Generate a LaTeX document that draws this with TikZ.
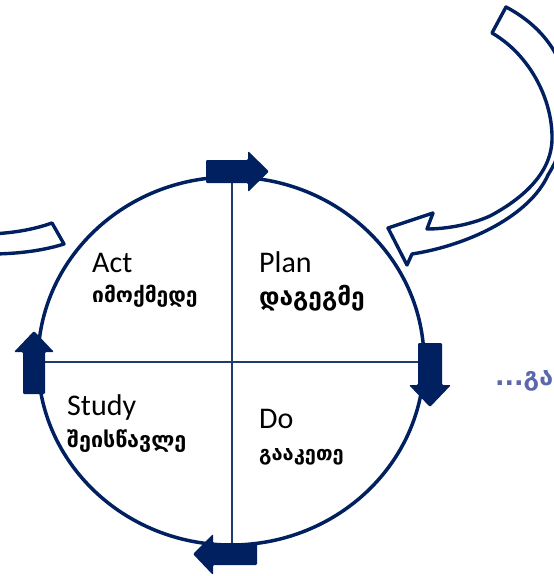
\documentclass[tikz,border=0pt]{standalone}
\usepackage{fontspec}
\setmainfont{Carlito}
\newfontfamily\geofont{DejaVu Sans}
\usepackage{tikz}

\definecolor{cyclenavy}{HTML}{002060}
\definecolor{dividerblue}{HTML}{1F3C6E}
\definecolor{slateblue}{HTML}{5B68AC}

\begin{document}
\begin{tikzpicture}[x=1pt,y=-1pt,
    stepname/.style={anchor=base west,font=\fontsize{30}{34}\selectfont,inner sep=0pt},
    georgian/.style={anchor=base west,font=\geofont\bfseries\fontsize{#1}{24}\selectfont,inner sep=0pt},
    bentarrow/.style={draw=cyclenavy,line width=3.4pt,fill=white,line join=round},
    blockarrow/.style={fill=cyclenavy,rounded corners=1.2pt}]

    \useasboundingbox (0,0) rectangle (554,576);
    \clip (0,0) rectangle (554,576);


    % big bent arrow top right
    \draw[bentarrow] (506,7) -- (492,33)
      .. controls (530,55) and (553,100) .. (552,140)
      .. controls (551,175) and (520,200) .. (490,216)
      .. controls (470,225) and (445,229) .. (427,229)
      -- (433,213) -- (388,228) -- (407,265) -- (412,254)
      .. controls (470,245) and (530,215) .. (548,175)
      .. controls (582,120) and (578,45) .. (506,7) -- cycle;


    % bent arrow top left
    \draw[bentarrow] (-10,234) .. controls (15,233) and (35,229) .. (52,223)
      -- (64,244) .. controls (45,250) and (20,254) .. (-10,254) -- cycle;


    % cycle and dividers
    \draw[cyclenavy,line width=3.5pt] (231,361) ellipse (193pt and 184pt);

    \draw[dividerblue,line width=1.8pt] (232,177) -- (232,545);

    \draw[dividerblue,line width=1.8pt] (40,362) -- (424,362);


    % block arrows on the cycle
    \fill[blockarrow] (206,160) -- (248,160) -- (248,151) -- (269,171.5)
      -- (248,192) -- (248,183) -- (206,183) -- cycle;

    \fill[blockarrow] (418,343) -- (418,385) -- (409,385) -- (430,407)
      -- (451,385) -- (442,385) -- (442,343) -- cycle;

    \fill[blockarrow] (257,543) -- (213,543) -- (213,534) -- (193,554)
      -- (213,575) -- (213,565) -- (257,565) -- cycle;

    \fill[blockarrow] (23,394) -- (23,352) -- (14,352) -- (34,331)
      -- (54,352) -- (45,352) -- (45,394) -- cycle;


    % quadrant labels
    \node[stepname] (act) at (92,272) {Act};
    \node[georgian=21] (actgeo) at (92,302) {იმოქმედე};

    \node[stepname] (plan) at (259,272) {Plan};
    \node[georgian=24.5] (plangeo) at (259,305) {დაგეგმე};

    \node[stepname] (study) at (67,415) {Study};
    \node[georgian=21.5] (studygeo) at (67,447) {შეისწავლე};

    \node[stepname] (do) at (259,428) {Do};
    \node[georgian=20] (dogeo) at (259,460) {გააკეთე};


    \node[georgian=25,text=slateblue] (more) at (495,385) {...გა};

  \end{tikzpicture}
\end{document}
